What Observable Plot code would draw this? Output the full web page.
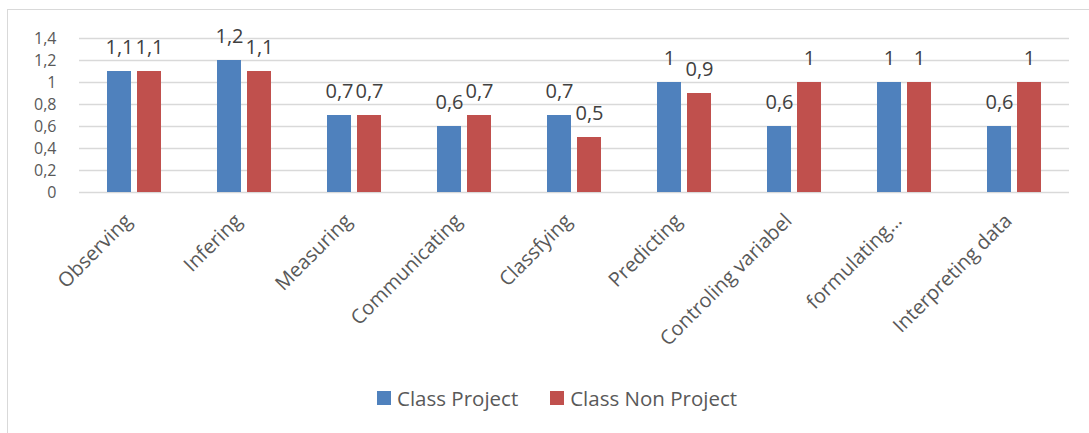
<!DOCTYPE html>
<html>
<head>
<meta charset="utf-8">
<script src="https://cdn.jsdelivr.net/npm/d3@7"></script>
<script src="https://cdn.jsdelivr.net/npm/@observablehq/plot@0.6"></script>
<style>
  html, body { margin: 0; padding: 0; background: #fff; }
  body { width: 1089px; height: 433px; overflow: hidden; position: relative; font-family: "Open Sans", sans-serif; }
  #frame { position: absolute; left: 7px; top: 9px; width: 1100px; height: 440px; border: 1.5px solid #d9d9d9; box-sizing: border-box; }
  #chart { position: absolute; left: 0; top: 0; }
  #legend { position: absolute; left: 377px; top: 384px; display: flex; gap: 32px; color: #595959; font-size: 20.5px; }
  .item { display: flex; align-items: center; gap: 6px; }
  .sw { width: 14px; height: 14px; display: inline-block; }
</style>
</head>
<body>
<div id="frame"></div>
<div id="chart"></div>
<div id="legend"></div>
<script>
const categories = ["Observing", "Infering", "Measuring", "Communicating", "Classfying", "Predicting", "Controling variabel", "formulating…", "Interpreting data"];
const seriesNames = ["Class Project", "Class Non Project"];
const classProject = [1.1, 1.2, 0.7, 0.6, 0.7, 1.0, 0.6, 1.0, 0.6];
const classNonProject = [1.1, 1.1, 0.7, 0.7, 0.5, 0.9, 1.0, 1.0, 1.0];
const colors = ["#4f81bd", "#c0504d"];
const yTicks = [0, 0.2, 0.4, 0.6, 0.8, 1.0, 1.2, 1.4];

const data = [];
categories.forEach((c, i) => {
  data.push({category: c, series: seriesNames[0], value: classProject[i]});
  data.push({category: c, series: seriesNames[1], value: classNonProject[i]});
});
const fmt = v => String(v).replace(".", ",");

const chart = Plot.plot({
  width: 1089,
  height: 362,
  marginLeft: 77,
  marginRight: 19,
  marginTop: 38,
  marginBottom: 170,
  style: {fontFamily: "'Open Sans', sans-serif", color: "#595959", background: "transparent"},
  fx: {domain: categories, padding: 0},
  x: {domain: seriesNames, paddingInner: 0.19, paddingOuter: 0.88, axis: null},
  y: {domain: [0, 1.4]},
  color: {domain: seriesNames, range: colors},
  marks: [
    Plot.ruleY(yTicks, {stroke: "#d9d9d9", strokeWidth: 1.5}),
    Plot.barY(data, {fx: "category", x: "series", y: "value", fill: "series"}),
    Plot.text(data, {fx: "category", x: "series", y: "value", text: d => fmt(d.value), dy: -24, fontSize: 20, fill: "#404040"}),
    Plot.axisY({ticks: yTicks, tickFormat: fmt, tickSize: 0, tickPadding: 23, fontSize: 16, label: null}),
    Plot.axisFx({anchor: "bottom", tickRotate: -45, tickSize: 0, tickPadding: 25, dx: -6, fontSize: 20, label: null})
  ]
});
document.getElementById("chart").appendChild(chart);

const legend = document.getElementById("legend");
seriesNames.forEach((s, i) => {
  const it = document.createElement("div");
  it.className = "item";
  it.innerHTML = `<span class="sw" style="background:${colors[i]}"></span><span>${s}</span>`;
  legend.appendChild(it);
});
</script>
</body>
</html>
